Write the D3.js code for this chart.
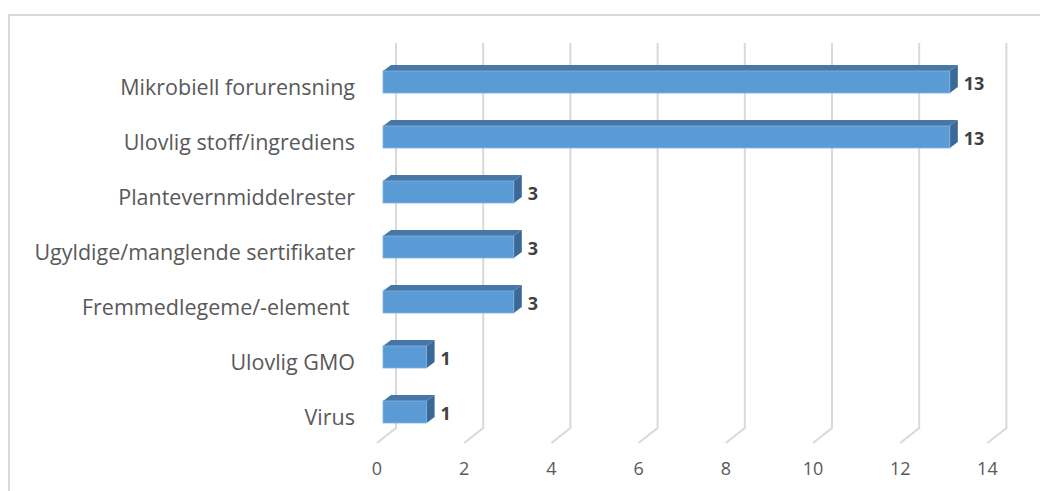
<!DOCTYPE html>
<html>
<head>
<meta charset="utf-8">
<script src="https://cdn.jsdelivr.net/npm/d3@7"></script>
<style>
  body { margin: 0; background: #fff; }
  svg { display: block; font-family: "Open Sans", sans-serif; }
</style>
</head>
<body>
<div id="container"></div>
<script>
// data
const categories = [
  "Mikrobiell forurensning",
  "Ulovlig stoff/ingrediens",
  "Plantevernmiddelrester",
  "Ugyldige/manglende sertifikater",
  "Fremmedlegeme/-element ",
  "Ulovlig GMO",
  "Virus"
];
const values = [13, 13, 3, 3, 3, 1, 1];
const ticks = [0, 2, 4, 6, 8, 10, 12, 14];

const W = 1040, H = 491;
const wallX = 396, wallTop = 43, wallBottom = 428;
const dx = 19, dy = 15;          // floor depth (back wall -> front)
const barX = 383;                // bar front face x at 0
const bdx = 8, bdy = 6;          // bar depth

const svg = d3.select("#container").append("svg")
  .attr("width", W).attr("height", H);

// frame
svg.append("path")
  .attr("d", `M9,${H} V15 H${W}`)
  .attr("fill", "none").attr("stroke", "#d9d9d9").attr("stroke-width", 2);

const x = d3.scaleLinear().domain([0, 14]).range([0, 610.4]);
const y = d3.scaleBand().domain(categories).range([wallTop, wallBottom])
  .paddingInner(0.6).paddingOuter(0.3);

// grid lines: back wall + floor slant
svg.append("g").selectAll("path")
  .data(ticks)
  .enter().append("path")
  .attr("d", t => `M${wallX + x(t)},${wallTop} V${wallBottom} l${-dx},${dy}`)
  .attr("fill", "none").attr("stroke", "#d9d9d9").attr("stroke-width", 2);

// tick labels
svg.append("g").selectAll("text")
  .data(ticks)
  .enter().append("text")
  .attr("x", t => wallX - dx + x(t))
  .attr("y", 475)
  .attr("text-anchor", "middle")
  .attr("fill", "#595959")
  .style("font-size", "18px")
  .text(t => t);

// bars
const bars = svg.append("g").selectAll("g")
  .data(categories)
  .enter().append("g");

const top0 = c => y(c) + 11.5;
const h = y.bandwidth();

bars.append("path") // top face
  .attr("d", (c, i) => {
    const t = top0(c), x1 = barX + x(values[i]);
    return `M${barX},${t} L${barX + bdx},${t - bdy} L${x1 + bdx},${t - bdy} L${x1},${t} Z`;
  })
  .attr("fill", "#4677a7");

bars.append("path") // side face
  .attr("d", (c, i) => {
    const t = top0(c), x1 = barX + x(values[i]);
    return `M${x1},${t} L${x1 + bdx},${t - bdy} L${x1 + bdx},${t + h - bdy} L${x1},${t + h} Z`;
  })
  .attr("fill", "#3a6897");

bars.append("rect") // front face
  .attr("x", barX)
  .attr("y", c => top0(c))
  .attr("width", (c, i) => x(values[i]))
  .attr("height", h)
  .attr("fill", "#5b9bd5")
  .attr("stroke", "#7fb1e0").attr("stroke-width", 0.8);

// value labels
bars.append("text")
  .attr("x", (c, i) => barX + x(values[i]) + bdx + 6)
  .attr("y", c => top0(c) + h / 2 + 3)
  .attr("dominant-baseline", "middle")
  .attr("fill", "#404040")
  .style("font-size", "18px")
  .style("font-weight", "bold")
  .text((c, i) => values[i]);

// category labels
svg.append("g").selectAll("text")
  .data(categories)
  .enter().append("text")
  .attr("x", 355)
  .attr("y", c => top0(c) + h / 2 + 7)
  .attr("dominant-baseline", "middle")
  .attr("text-anchor", "end")
  .attr("fill", "#595959")
  .style("font-size", "21.5px")
  .style("white-space", "pre")
  .text(c => c);
</script>
</body>
</html>
